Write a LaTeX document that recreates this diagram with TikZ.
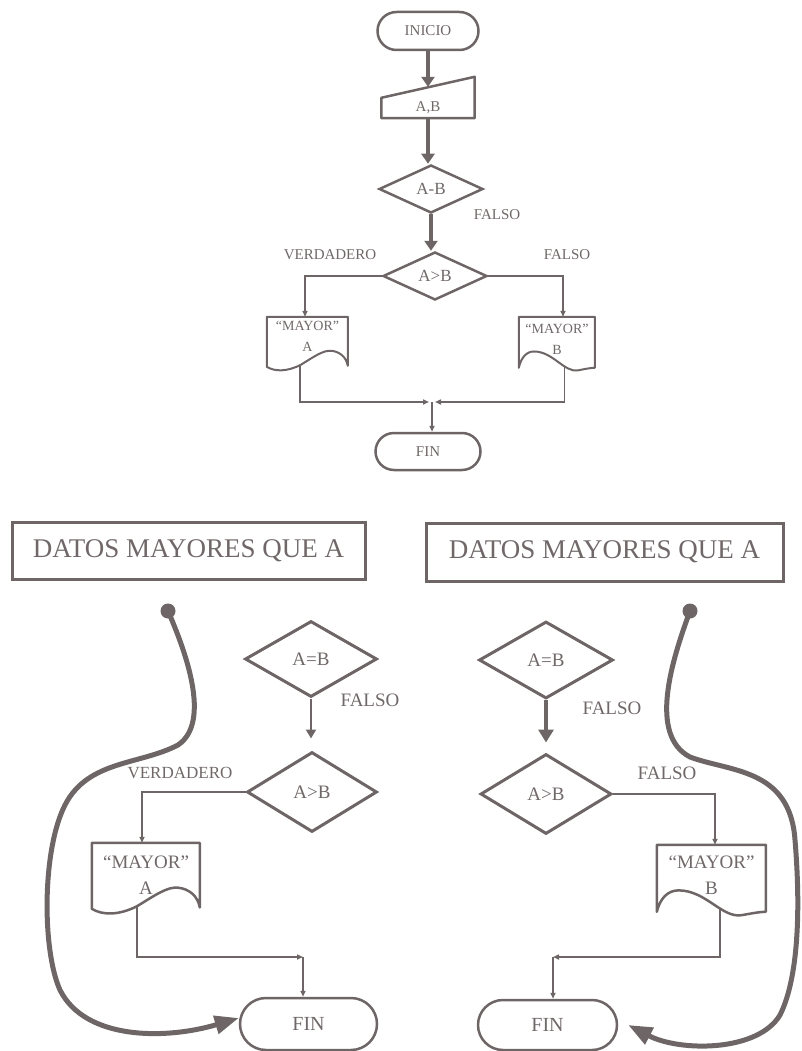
\documentclass[tikz,border=0pt]{standalone}
\usepackage{fontspec}
\setmainfont{Liberation Serif}
\usetikzlibrary{shapes.geometric,shapes.misc,arrows.meta,calc}

\definecolor{ink}{RGB}{110,102,102}
\definecolor{txt}{RGB}{112,104,104}

% document symbol, wave rising to the right (#1 node, #2 width, #3 height of side edges)
\newcommand{\waveDocRight}[4][2pt]{%
  \draw[draw=ink, line width=#1, line join=round, shift={(#2.north west)}, x=#3pt, y=-#4pt]
    (0,0) -- (0,1) .. controls (0.1,1.1) and (0.25,1.1) .. (0.42,0.96)
    .. controls (0.58,0.8) and (0.7,0.66) .. (0.8,0.68)
    .. controls (0.9,0.7) and (0.98,0.8) .. (1,0.98) -- (1,0) -- cycle;}
% document symbol, wave rising to the left
\newcommand{\waveDocLeft}[4][2pt]{%
  \draw[draw=ink, line width=#1, line join=round, shift={(#2.north west)}, x=#3pt, y=-#4pt]
    (0,0) -- (0,1) .. controls (0.03,0.8) and (0.1,0.68) .. (0.2,0.68)
    .. controls (0.45,0.68) and (0.6,1.1) .. (0.78,1.05)
    .. controls (0.88,1.02) and (0.95,1) .. (1,1) -- (1,0) -- cycle;}

\begin{document}
\begin{tikzpicture}[x=1pt,y=-1pt,
  every node/.style={text=txt},
  term/.style={rounded rectangle, draw=ink, line width=2.5pt, inner sep=0pt},
  dec/.style={diamond, draw=ink, line width=2.5pt, inner sep=0pt},
  plain/.style={draw=none, inner sep=0pt, align=center},
  outline/.style={draw=ink, line width=2pt, line join=round},
  thin/.style={draw=ink, line width=1.6pt},
  smalltip/.style={-{Triangle[length=6pt,width=5pt]}},
  heavy/.style={draw=ink, line width=3.5pt, -{Triangle[length=10pt,width=13pt]}},
  medium/.style={draw=ink, line width=2pt, -{Triangle[length=9pt,width=10pt]}},
  swoop/.style={draw=ink, line width=5pt, line cap=round, -{Triangle[length=24pt,width=18pt]}},
  title/.style={rectangle, draw=ink, line width=3pt, inner sep=0pt, font=\fontsize{27}{32}\selectfont},
  fs/.style={font=\fontsize{15}{17}\selectfont},
  fm/.style={font=\fontsize{17}{20}\selectfont},
  fl/.style={font=\fontsize{19}{24}\selectfont},
  ft/.style={font=\fontsize{14}{21}\selectfont},
  fd/.style={font=\fontsize{19}{26}\selectfont}
]
\useasboundingbox (0,0) rectangle (802,1051);

% ---------------- upper flowchart ----------------
\node[term, minimum width=101pt, minimum height=38pt, fs] (inicio) at (428,31) {INICIO};
\node[plain, minimum width=93pt, minimum height=20pt, fs] (ab) at (428,108) {A,B};
\draw[outline, line width=2.5pt] (ab.south west) -- (ab.south east)
  -- ($(ab.north east)+(0,-21)$) -- (ab.north west) -- cycle;

\node[dec, minimum width=104pt, minimum height=48pt, fm] (d1) at (431,189) {A-B};
\node[fs] (f1) at (497,215) {FALSO};
\node[dec, minimum width=104pt, minimum height=48pt, fm] (d2) at (435,276) {A>B};
\node[fs] (v1) at (330,255) {VERDADERO};
\node[fs] (f2) at (567,255) {FALSO};

\node[plain, minimum width=81pt, minimum height=38pt, ft] (docA1) at (307.5,336) {“MAYOR”\\A};
\waveDocRight{docA1}{81}{50}
\node[plain, minimum width=76pt, minimum height=44pt, ft] (docB1) at (557,339) {“MAYOR”\\B};
\waveDocLeft{docB1}{76}{51}

\coordinate (j0) at (432,402);
\node[term, minimum width=105pt, minimum height=37pt, fs] (fin0) at (428,451.5) {FIN};

\draw[heavy] (inicio.south) -- ($(ab.north)+(0,-11)$);
\draw[heavy] (ab.south) -- (ab.south |- d1.north);
\draw[heavy] (d1.south) -- (d1.south |- d2.north);
\draw[thin, smalltip] (d2.west) -| ($(docA1.north)+(-2.5,0)$);
\draw[thin, smalltip] (d2.east) -| ($(docB1.north)+(6,0)$);
\draw[thin, smalltip] ($(docA1.north west)+(0.41*81,0.96*50)$) |- ($(j0)+(-3,0)$);
\draw[thin, smalltip] ($(docB1.north west)+(0.6*76,0.96*51)$) |- ($(j0)+(3,0)$);
\draw[thin, smalltip] (j0) -- (j0 |- fin0.north);

% ---------------- lower left ----------------
\node[title, minimum width=353pt, minimum height=57pt] (t1) at (188.5,550.5) {DATOS MAYORES QUE A};

\node[dec, line width=3pt, minimum width=132pt, minimum height=76pt, fl] (e1) at (311,659) {A=B};
\node[fl] (f3) at (370,700) {FALSO};
\node[dec, line width=3pt, minimum width=130pt, minimum height=80pt, fl] (e2) at (312,792) {A>B};
\node[font=\fontsize{17}{20}\selectfont] (v2) at (180,773) {VERDADERO};

\node[plain, minimum width=108pt, minimum height=64pt, fd] (docA2) at (146,875) {“MAYOR”\\A};
\waveDocRight[2.5pt]{docA2}{108}{66}

\coordinate (j1) at (303,957);
\node[term, minimum width=137pt, minimum height=52pt, font=\fontsize{20}{24}\selectfont] (fin1) at (308.5,1024) {FIN};

\draw[medium] (e1.south) -- ($(e1.south |- e2.north)+(0,-12)$);
\draw[thin, smalltip] (e2.west) -| ($(docA2.north)+(-4,0)$);
\draw[thin, smalltip] ($(docA2.north west)+(0.42*108,0.96*66)$) |- (j1);
\draw[thin, smalltip] (j1) -- (j1 |- fin1.north);

\coordinate (s1) at (168,611);
\fill[ink] (s1) circle (7.5pt);
\draw[swoop] (s1) .. controls (185,650) and (212,722) .. (178,745)
  .. controls (140,765) and (88,760) .. (65,805)
  .. controls (42,850) and (42,950) .. (60,990)
  .. controls (85,1040) and (165,1040) .. ($(fin1.west)+(0,-6)$);

% ---------------- lower right ----------------
\node[title, minimum width=357pt, minimum height=58pt] (t2) at (604.5,552) {DATOS MAYORES QUE A};

\node[dec, line width=3pt, minimum width=134pt, minimum height=77pt, fl] (g1) at (546,660) {A=B};
\node[fl] (f4) at (612,708) {FALSO};
\node[dec, line width=3pt, minimum width=131pt, minimum height=80pt, fl] (g2) at (546,794) {A>B};
\node[fl] (f5) at (667,773) {FALSO};

\node[plain, minimum width=109pt, minimum height=61pt, fd] (docB2) at (711.5,875.5) {“MAYOR”\\B};
\waveDocLeft[2.5pt]{docB2}{109}{67}

\coordinate (j2) at (553,957);
\node[term, minimum width=139pt, minimum height=50pt, font=\fontsize{20}{24}\selectfont] (fin2) at (547.5,1025) {FIN};

\draw[heavy, line width=4pt, -{Triangle[length=13pt,width=15pt]}] (g1.south) -- ($(g1.south |- g2.north)+(0,-10)$);
\draw[thin, smalltip] (g2.east) -| ($(docB2.north)+(3.5,0)$);
\draw[thin, smalltip] ($(docB2.north west)+(0.58*109,0.95*67)$) |- (j2);
\draw[thin, smalltip] (j2) -- (j2 |- fin2.north);

\coordinate (s2) at (690,611);
\fill[ink] (s2) circle (7.5pt);
\draw[swoop] (s2) .. controls (672,660) and (648,735) .. (690,757)
  .. controls (730,772) and (790,768) .. (795,840)
  .. controls (800,900) and (800,975) .. (780,1015)
  .. controls (758,1052) and (680,1052) .. ($(fin2.east)+(10,0)$);
\end{tikzpicture}
\end{document}
